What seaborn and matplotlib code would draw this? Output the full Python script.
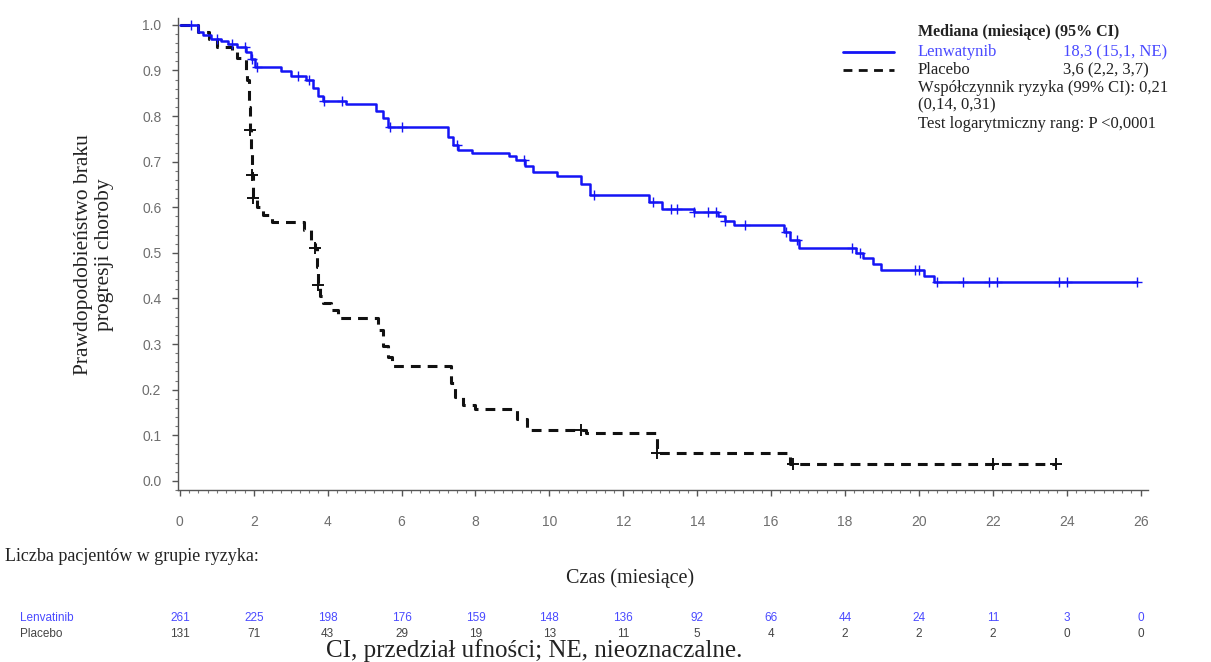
import numpy as np
import pandas as pd
import matplotlib
matplotlib.use("Agg")
import matplotlib.pyplot as plt
import matplotlib.transforms as mtransforms
from matplotlib.lines import Line2D
from matplotlib.ticker import MultipleLocator, FormatStrFormatter
import seaborn as sns

# ---------------- data ----------------
lenva_t = [0, 0.50, 0.62, 0.85, 1.10, 1.30, 1.55, 1.80, 1.92, 2.03, 2.75, 3.00, 3.40, 3.60,
           3.75, 3.88, 4.50, 5.30, 5.50, 5.64, 7.25, 7.40, 7.52, 7.90, 8.90, 9.10, 9.35, 9.55,
           10.20, 10.85, 11.10, 12.70, 13.06, 13.90, 14.55, 14.75, 15.00, 16.35, 16.50, 16.75,
           18.30, 18.50, 18.75, 18.97, 20.15, 20.40, 25.90]
lenva_s = [1.000, 0.985, 0.977, 0.970, 0.965, 0.958, 0.952, 0.940, 0.925, 0.908, 0.898, 0.888,
           0.878, 0.862, 0.845, 0.832, 0.826, 0.812, 0.795, 0.776, 0.755, 0.736, 0.726, 0.720,
           0.712, 0.703, 0.690, 0.678, 0.668, 0.650, 0.626, 0.612, 0.596, 0.590, 0.580, 0.570,
           0.561, 0.545, 0.528, 0.511, 0.500, 0.488, 0.475, 0.463, 0.450, 0.437, 0.437]
lenva_cens = [0.3, 1.0, 1.4, 1.75, 1.95, 2.1, 3.2, 3.5, 3.9, 4.4, 5.7, 6.0, 7.5, 9.3, 11.2,
              12.8, 13.3, 13.45, 13.9, 14.3, 14.5, 14.75, 15.3, 16.4, 16.7, 18.2, 18.4, 19.9,
              20.0, 20.5, 21.2, 21.9, 22.1, 23.8, 24.0, 25.9]

plac_t = [0, 0.50, 0.80, 1.00, 1.40, 1.55, 1.80, 1.82, 1.86, 1.89, 1.92, 1.94, 1.97, 2.10,
          2.25, 2.50, 3.35, 3.55, 3.66, 3.70, 3.73, 3.80, 3.86, 4.10, 4.28, 5.35, 5.50, 5.62,
          5.74, 7.35, 7.45, 7.67, 8.00, 9.13, 9.40, 11.00, 12.90, 16.50, 23.70]
plac_s = [1.000, 0.985, 0.970, 0.952, 0.940, 0.928, 0.900, 0.880, 0.820, 0.770, 0.720, 0.670,
          0.620, 0.600, 0.583, 0.568, 0.550, 0.528, 0.510, 0.470, 0.430, 0.405, 0.390, 0.375,
          0.357, 0.330, 0.295, 0.272, 0.252, 0.215, 0.184, 0.167, 0.158, 0.135, 0.112, 0.104,
          0.061, 0.037, 0.037]
plac_cens = [1.90, 1.95, 1.98, 3.67, 3.75, 10.85, 12.92, 16.6, 22.0, 23.7]

risk_times = [0, 2, 4, 6, 8, 10, 12, 14, 16, 18, 20, 22, 24, 26]
risk_lenva = [261, 225, 198, 176, 159, 148, 136, 92, 66, 44, 24, 11, 3, 0]
risk_plac = [131, 71, 43, 29, 19, 13, 11, 5, 4, 2, 2, 2, 0, 0]

BLUE = "#1414f5"
BLUE_TXT = "#4a4aff"
GRAY = "#6e6e6e"


def step_at(times, surv, q):
    idx = np.searchsorted(np.asarray(times), np.asarray(q), side="right") - 1
    return np.asarray(surv)[idx]


# ---------------- figure ----------------
sns.set_theme(style="white")
plt.rcParams["font.family"] = ["Liberation Serif", "DejaVu Serif"]

fig = plt.figure(figsize=(12.11, 6.62), dpi=100)
ax = fig.add_axes([0.147, 0.2598, 0.801, 0.713])

df_l = pd.DataFrame({"t": lenva_t, "s": lenva_s})
df_p = pd.DataFrame({"t": plac_t, "s": plac_s})

sns.lineplot(data=df_p, x="t", y="s", ax=ax, estimator=None, sort=False,
             drawstyle="steps-post", color="#111111", linewidth=2.2,
             linestyle=(0, (3.2, 2.3)))
sns.lineplot(data=df_l, x="t", y="s", ax=ax, estimator=None, sort=False,
             drawstyle="steps-post", color=BLUE, linewidth=1.8)

sns.scatterplot(x=plac_cens, y=step_at(plac_t, plac_s, plac_cens), ax=ax,
                marker="+", s=70, color="#111111", linewidth=1.4, zorder=4)
sns.scatterplot(x=lenva_cens, y=step_at(lenva_t, lenva_s, lenva_cens), ax=ax,
                marker="+", s=55, color=BLUE, linewidth=1.0, zorder=4)

ax.set_xlim(-0.05, 26.2)
ax.set_ylim(-0.02, 1.015)
ax.xaxis.set_major_locator(MultipleLocator(2))
ax.xaxis.set_minor_locator(MultipleLocator(0.25))
ax.yaxis.set_major_locator(MultipleLocator(0.1))
ax.yaxis.set_minor_locator(MultipleLocator(0.02))
ax.yaxis.set_major_formatter(FormatStrFormatter("%.1f"))
ax.set_xlabel("")
ax.set_ylabel("")
for sp in ["top", "right"]:
    ax.spines[sp].set_visible(False)
for sp in ["left", "bottom"]:
    ax.spines[sp].set_color("#555555")
    ax.spines[sp].set_linewidth(1.0)
ax.tick_params(axis="both", which="both", bottom=True, left=True, direction="out")
ax.tick_params(axis="both", which="major", length=4, width=1, color="#555555",
               labelcolor=GRAY, labelsize=10)
ax.tick_params(axis="both", which="minor", length=2, width=0.8, color="#777777")
ax.tick_params(axis="x", which="major", pad=14)
ax.tick_params(axis="y", which="major", pad=8)
for lab in ax.get_xticklabels() + ax.get_yticklabels():
    lab.set_fontfamily("Liberation Sans")

# y label
fig.text(0.0775, 0.615, "Prawdopodobieństwo braku\nprogresji choroby", rotation=90,
         ha="center", va="center", fontsize=15.5, color="#222222", linespacing=1.1)

# axis/table texts
fig.text(0.004, 0.160, "Liczba pacjentów w grupie ryzyka:", ha="left", va="center",
         fontsize=13, color="#222222")
fig.text(0.520, 0.127, "Czas (miesiące)", ha="center", va="center", fontsize=14.5,
         color="#222222")
fig.text(0.441, 0.018, "CI, przedział ufności; NE, nieoznaczalne.", ha="center",
         va="center", fontsize=18, color="#222222")

# risk table
tr = mtransforms.blended_transform_factory(ax.transData, fig.transFigure)
for t, n in zip(risk_times, risk_lenva):
    ax.text(t, 0.0665, str(n), transform=tr, ha="center", va="center", fontsize=8.5,
            color=BLUE_TXT, family="Liberation Sans", clip_on=False)
for t, n in zip(risk_times, risk_plac):
    ax.text(t, 0.0423, str(n), transform=tr, ha="center", va="center", fontsize=8.5,
            color="#444444", family="Liberation Sans", clip_on=False)
fig.text(0.0165, 0.0665, "Lenvatinib", ha="left", va="center", fontsize=8.5,
         color=BLUE_TXT, family="Liberation Sans")
fig.text(0.0165, 0.0423, "Placebo", ha="left", va="center", fontsize=8.5,
         color="#444444", family="Liberation Sans")

# legend block
LX = 0.758
VX = 0.878
fig.text(LX, 0.951, "Mediana (miesiące) (95% CI)", ha="left", va="center",
         fontsize=11.5, fontweight="bold", color="#222222")
fig.add_artist(Line2D([0.696, 0.738], [0.921, 0.921], color=BLUE, linewidth=2.0,
                      transform=fig.transFigure))
fig.add_artist(Line2D([0.696, 0.738], [0.894, 0.894], color="#111111", linewidth=2.0,
                      linestyle=(0, (3.2, 2.3)), transform=fig.transFigure))
fig.text(LX, 0.921, "Lenwatynib", ha="left", va="center", fontsize=12, color=BLUE_TXT)
fig.text(VX, 0.921, "18,3 (15,1, NE)", ha="left", va="center", fontsize=12, color=BLUE_TXT)
fig.text(LX, 0.894, "Placebo", ha="left", va="center", fontsize=12, color="#222222")
fig.text(VX, 0.894, "3,6 (2,2, 3,7)", ha="left", va="center", fontsize=12, color="#222222")
fig.text(LX, 0.867, "Współczynnik ryzyka (99% CI): 0,21", ha="left", va="center",
         fontsize=12, color="#222222")
fig.text(LX, 0.841, "(0,14, 0,31)", ha="left", va="center", fontsize=12, color="#222222")
fig.text(LX, 0.813, "Test logarytmiczny rang: P <0,0001", ha="left", va="center",
         fontsize=12, color="#222222")

fig.savefig("out.png", dpi=100, facecolor="white")
